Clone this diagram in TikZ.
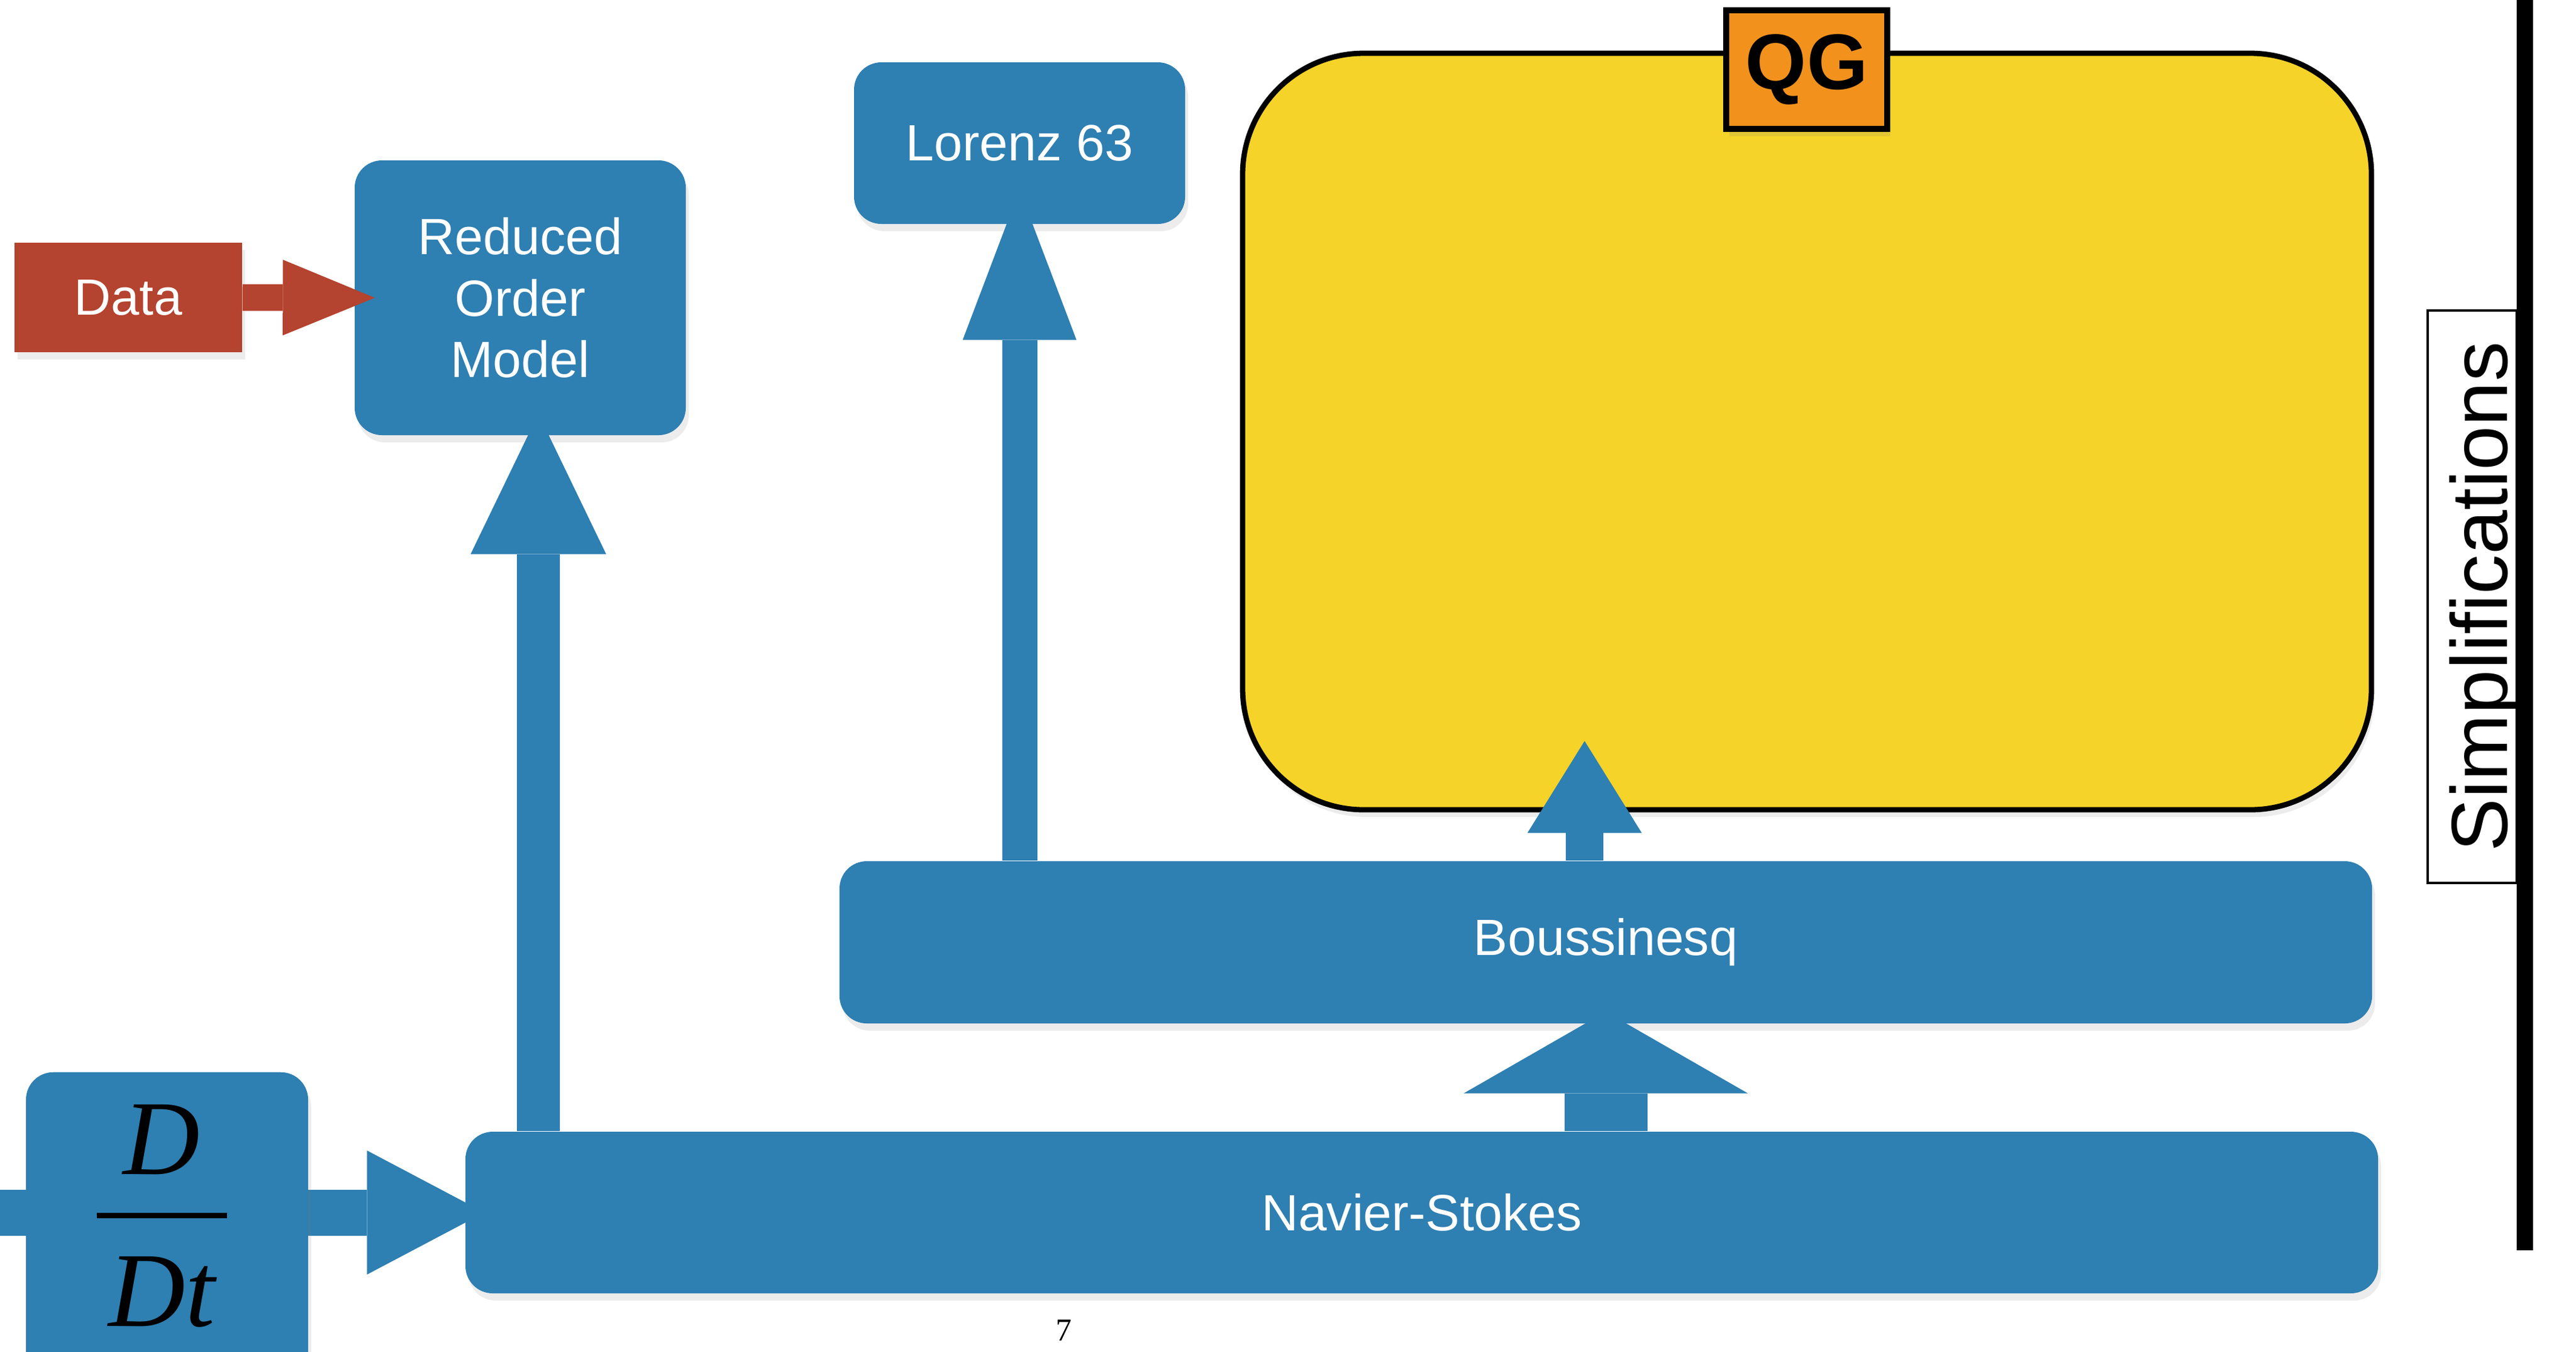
\documentclass[tikz,border=0pt]{standalone}
\usepackage{fontspec}
\setmainfont{Liberation Sans}
\newfontfamily\timesfont{Liberation Serif}
\usetikzlibrary{positioning,calc,arrows.meta,shadows}
\definecolor{SlideBlue}{RGB}{46,127,178}
\definecolor{DataRed}{RGB}{180,67,47}
\definecolor{QGYellow}{RGB}{245,211,40}
\definecolor{QGOrange}{RGB}{242,146,28}

\begin{document}
\begin{tikzpicture}[
    % Box styles
    softshadow/.style={drop shadow={shadow xshift=0.05cm, shadow yshift=-0.12cm, opacity=0.15}},
    bluebox/.style={rectangle, rounded corners=0.45cm, fill=SlideBlue, text=white, inner sep=0pt, align=center, font=\fontsize{24}{28.8}\selectfont, softshadow},
    databox/.style={rectangle, fill=DataRed, text=white, inner sep=0pt, font=\fontsize{24}{28.8}\selectfont, softshadow},
    qgbox/.style={rectangle, rounded corners=2cm, draw=black, line width=2.5pt, fill=QGYellow, inner sep=0pt, softshadow},
    qgtag/.style={rectangle, draw=black, line width=3pt, fill=QGOrange, inner sep=0pt, font=\fontsize{37}{40}\selectfont\bfseries, softshadow},
    simpbox/.style={rectangle, draw=black, line width=1.3pt, fill=white, rotate=90, inner sep=0pt, font=\fontsize{37.5}{40}\selectfont},
    fractext/.style={inner sep=0pt, text=black, align=center, font=\timesfont\itshape\fontsize{50}{0}\selectfont},
    pagenum/.style={inner sep=0pt, anchor=north, font=\timesfont\fontsize{15}{17}\selectfont},
    % Arrow styles: shaft width, head length, head width
    bluearrow/.style n args={3}{draw=SlideBlue, line width=#1, -{Triangle[length=#2, width=#3, line width=0pt]}},
    redarrow/.style n args={3}{draw=DataRed, line width=#1, -{Triangle[length=#2, width=#3, line width=0pt]}}
]
    \useasboundingbox (0,0) rectangle (42.56,-22.33);

    % --- BOXES ---
    \node[databox, minimum width=3.76cm, minimum height=1.81cm] (data) at (2.12,-4.915) {Data};
    \node[bluebox, minimum width=5.47cm, minimum height=4.54cm] (rom) at (8.595,-4.92) {Reduced\\Order\\Model};
    \node[bluebox, minimum width=5.47cm, minimum height=2.67cm] (lorenz) at (16.845,-2.365) {Lorenz 63};

    % QG box with its tag on the top edge
    \node[qgbox, minimum width=18.65cm, minimum height=12.5cm] (qg) at (29.855,-7.13) {};
    \node[qgtag, minimum width=2.66cm, minimum height=1.96cm] (qgtag) at (29.85,-1.15) {QG};

    \node[bluebox, minimum width=25.32cm, minimum height=2.68cm] (bouss) at (26.53,-15.57) {Boussinesq};
    \node[bluebox, minimum width=31.6cm, minimum height=2.67cm] (nav) at (23.49,-20.035) {Navier-Stokes};

    % --- ARROWS ---
    \coordinate (romin) at ([xshift=0.3cm, yshift=0.36cm]rom.south);
    \coordinate (qgin) at ([xshift=-0.35cm]bouss.north);
    \coordinate (inflow) at (-0.1,-20.035);

    \draw[redarrow={0.44cm}{1.52cm}{1.25cm}] (data.east) -- ([xshift=0.34cm]rom.west);
    \draw[bluearrow={0.71cm}{2.32cm}{2.24cm}] (nav.north -| romin) -- (romin);
    \draw[bluearrow={0.58cm}{2.48cm}{1.88cm}] (bouss.north -| lorenz.south) -- ([yshift=0.57cm]lorenz.south);
    \draw[bluearrow={0.62cm}{1.52cm}{1.89cm}] (qgin) -- ($(qg.south -| qgin)+(0,1.18)$);
    \draw[bluearrow={1.37cm}{1.35cm}{4.70cm}] (nav.north -| bouss.south) -- ([yshift=0.2cm]bouss.south);
    \draw[bluearrow={0.76cm}{1.94cm}{2.05cm}] (inflow) -- ([xshift=0.32cm]nav.west);

    % D/Dt box sits over the incoming arrow
    \node[bluebox, minimum width=4.66cm, minimum height=5.4cm, anchor=north] (ddt) at (2.76,-17.71) {};
    \node[fractext] (ddtfrac) at (2.67,-20.095) {D\\[0.6cm]\rule{2.15cm}{0.09cm}\\[0.6cm]Dt};

    % --- SIMPLIFICATIONS AXIS ---
    \coordinate (axistop) at (41.715,0.1);
    \coordinate (axisbot) at (41.715,-20.66);
    \draw[line width=0.27cm] (axistop) -- (axisbot);
    \node[simpbox, minimum width=9.46cm, text height=1.31cm, text depth=0.16cm] (simp) at (40.845,-9.86) {Simplifications};

    % page number
    \node[pagenum] (page) at (17.58,-21.8) {7};
\end{tikzpicture}
\end{document}
